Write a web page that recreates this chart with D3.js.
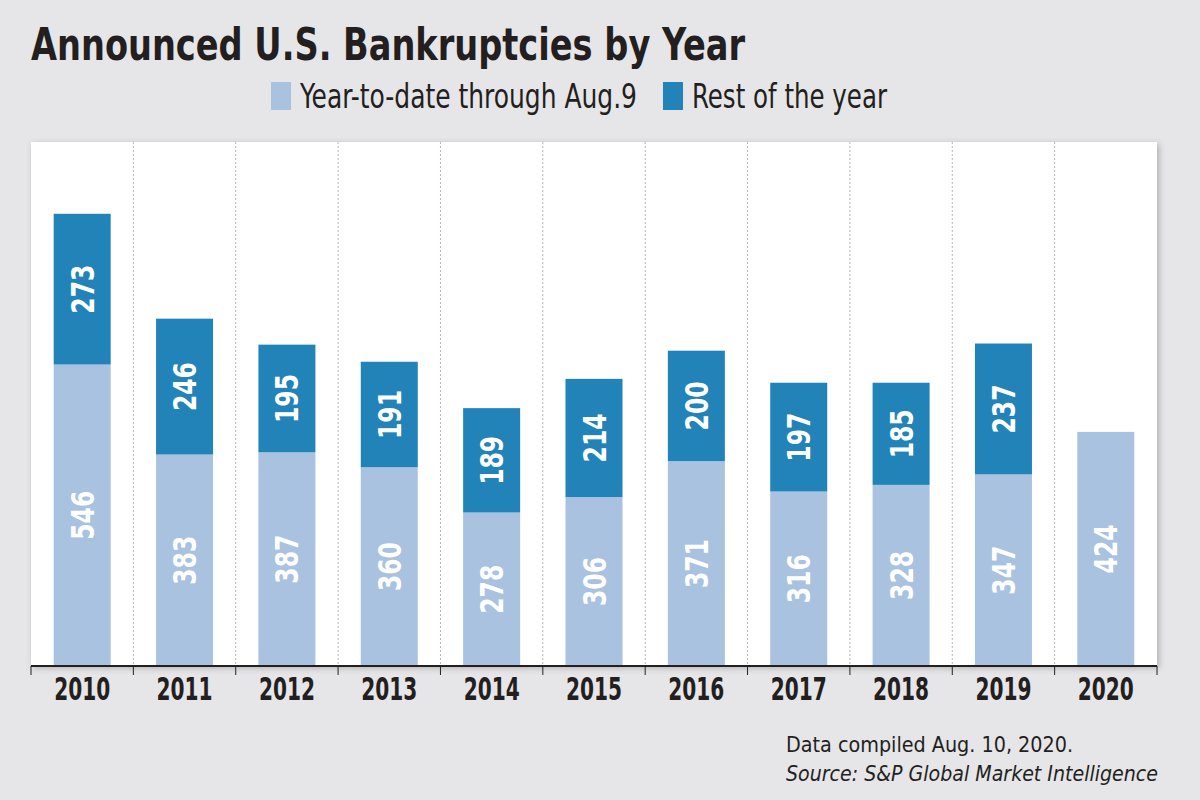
<!DOCTYPE html>
<html lang="en">
<head>
    <meta charset="UTF-8">
    <script src="https://cdn.jsdelivr.net/npm/d3@7"></script>
    <title>Announced U.S. Bankruptcies by Year</title>
    <style>
        body { margin: 0; background: #e6e6e8; }
        text { font-family: "DejaVu Sans Condensed", "Liberation Sans Narrow", sans-serif; }
    </style>
</head>
<body>
    <script>
        const years = ["2010","2011","2012","2013","2014","2015","2016","2017","2018","2019","2020"]
        const ytd = [546, 383, 387, 360, 278, 306, 371, 316, 328, 347, 424]
        const rest = [273, 246, 195, 191, 189, 214, 200, 197, 185, 237, null]
        const seriesNames = ["Year-to-date through Aug.9", "Rest of the year"]
        const colors = ["#a9c2df", "#2183b8"]

        const width = 1200, height = 800
        const panel = {left: 31, right: 1157, top: 142, bottom: 666}

        const svg = d3.select("body").append("svg")
            .attr("width", width)
            .attr("height", height)

        const defs = svg.append("defs")
        const f = defs.append("filter").attr("id", "shadow")
            .attr("x", "-5%").attr("y", "-5%").attr("width", "110%").attr("height", "110%")
        f.append("feDropShadow").attr("dx", 2).attr("dy", 2).attr("stdDeviation", 3)
            .attr("flood-color", "#000").attr("flood-opacity", 0.25)

        svg.append("rect")
            .attr("x", panel.left).attr("y", panel.top)
            .attr("width", panel.right - panel.left)
            .attr("height", panel.bottom - panel.top)
            .attr("fill", "#fff")
            .attr("filter", "url(#shadow)")

        const x = d3.scaleBand().domain(years).range([panel.left, panel.right]).paddingInner(0).paddingOuter(0)
        const y = d3.scaleLinear().domain([0, 949]).range([panel.bottom, panel.top])
        const barW = 57

        // dotted separators
        svg.append("g").selectAll("line")
            .data(years.slice(1))
            .join("line")
            .attr("x1", d => x(d)).attr("x2", d => x(d))
            .attr("y1", panel.top).attr("y2", panel.bottom)
            .attr("stroke", "#b5b5b5")
            .attr("stroke-width", 1)
            .attr("stroke-dasharray", "2,2")

        const data = years.map((yr, i) => ({year: yr, ytd: ytd[i], rest: rest[i]}))

        const g = svg.append("g")
        const bars = g.selectAll("g.bar").data(data).join("g").attr("class", "bar")

        bars.append("rect")
            .attr("x", d => x(d.year) + x.bandwidth() / 2 - barW / 2)
            .attr("width", barW)
            .attr("y", d => y(d.ytd))
            .attr("height", d => y(0) - y(d.ytd))
            .attr("fill", colors[0])

        bars.filter(d => d.rest != null).append("rect")
            .attr("x", d => x(d.year) + x.bandwidth() / 2 - barW / 2)
            .attr("width", barW)
            .attr("y", d => y(d.ytd + d.rest))
            .attr("height", d => y(d.ytd) - y(d.ytd + d.rest))
            .attr("fill", colors[1])

        function label(sel, yc, val) {
            sel.append("text")
                .attr("transform", d => `translate(${x(d.year) + x.bandwidth() / 2},${yc(d)}) rotate(-90)`)
                .attr("text-anchor", "middle")
                .attr("dy", "0.36em")
                .attr("fill", "#fff")
                .attr("font-weight", "bold")
                .attr("font-size", "32px")
                .attr("textLength", 49)
                .attr("lengthAdjust", "spacingAndGlyphs")
                .text(val)
        }
        label(bars, d => (y(0) + y(d.ytd)) / 2, d => d.ytd)
        label(bars.filter(d => d.rest != null), d => (y(d.ytd) + y(d.ytd + d.rest)) / 2, d => d.rest)

        // axis
        const axis = svg.append("g")
        axis.append("line")
            .attr("x1", panel.left).attr("x2", panel.right)
            .attr("y1", panel.bottom).attr("y2", panel.bottom)
            .attr("stroke", "#231f20").attr("stroke-width", 2)
        axis.selectAll("line.tick")
            .data(years.concat(["end"]))
            .join("line").attr("class", "tick")
            .attr("x1", d => d === "end" ? panel.right : x(d))
            .attr("x2", d => d === "end" ? panel.right : x(d))
            .attr("y1", panel.bottom).attr("y2", panel.bottom + 9)
            .attr("stroke", "#231f20").attr("stroke-width", 1)
        axis.selectAll("text")
            .data(years)
            .join("text")
            .attr("x", d => x(d) + x.bandwidth() / 2)
            .attr("y", 700)
            .attr("text-anchor", "middle")
            .attr("font-weight", "bold")
            .attr("font-size", "32px")
            .attr("textLength", 56)
            .attr("lengthAdjust", "spacingAndGlyphs")
            .attr("fill", "#231f20")
            .text(d => d)

        // title
        svg.append("text")
            .attr("x", 31).attr("y", 60)
            .attr("font-weight", "bold")
            .attr("font-size", "44px")
            .attr("textLength", 714)
            .attr("lengthAdjust", "spacingAndGlyphs")
            .attr("fill", "#231f20")
            .text("Announced U.S. Bankruptcies by Year")

        // legend
        const legendX = [271, 663]
        const legendW = [337, 195]
        const leg = svg.append("g")
        leg.selectAll("rect").data(seriesNames).join("rect")
            .attr("x", (d, i) => legendX[i]).attr("y", 82)
            .attr("width", 20).attr("height", 28)
            .attr("fill", (d, i) => colors[i])
        leg.selectAll("text").data(seriesNames).join("text")
            .attr("x", (d, i) => legendX[i] + 29).attr("y", 108)
            .attr("font-size", "33px")
            .attr("textLength", (d, i) => legendW[i])
            .attr("lengthAdjust", "spacingAndGlyphs")
            .attr("fill", "#231f20")
            .text(d => d)

        // footer
        svg.append("text")
            .attr("x", 786).attr("y", 752)
            .attr("font-size", "22px")
            .attr("textLength", 287)
            .attr("lengthAdjust", "spacingAndGlyphs")
            .attr("fill", "#231f20")
            .attr("font-family", "'Open Sans', sans-serif")
            .text("Data compiled Aug. 10, 2020.")
        svg.append("text")
            .attr("x", 786).attr("y", 781)
            .attr("font-size", "22px")
            .attr("font-style", "italic")
            .attr("textLength", 372)
            .attr("lengthAdjust", "spacingAndGlyphs")
            .attr("fill", "#231f20")
            .attr("font-family", "'Open Sans', sans-serif")
            .text("Source: S&P Global Market Intelligence")
    </script>
</body>
</html>
